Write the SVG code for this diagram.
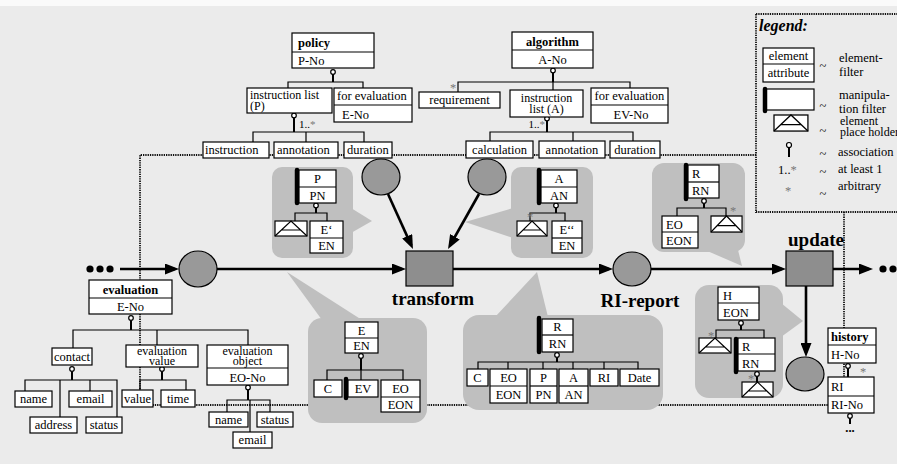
<svg xmlns="http://www.w3.org/2000/svg" width="897" height="464" viewBox="0 0 897 464">
<style>
.b{fill:#fff;stroke:#000;stroke-width:1.2}
.l{fill:none;stroke:#000;stroke-width:1.2}
.st{fill:none;stroke:#000;stroke-width:2}
.d{fill:none;stroke:#111;stroke-width:1.8;stroke-dasharray:1.3 1}
.f{fill:none;stroke:#000;stroke-width:2.6}
.co{fill:#bfbfbf}
.cir{fill:#999;stroke:#000;stroke-width:1.2}
.sq{fill:#8e8e8e;stroke:#000;stroke-width:1.2}
.a{fill:#fff;stroke:#000;stroke-width:1.2}
.bar{stroke:#000;stroke-width:4.5;stroke-linecap:round}
text{font-family:"Liberation Serif","Times New Roman","DejaVu Serif",serif;font-size:12.5px;fill:#000}
.m{text-anchor:middle}
.e{text-anchor:end}
.bd{font-weight:bold}
.big{font-size:19px;font-weight:bold}
.g{fill:#777}
.sm{font-size:11px}
.tl{font-size:12px}
</style>
<defs>
<marker id="ah" markerWidth="14" markerHeight="11" refX="10" refY="5.5" orient="auto" markerUnits="userSpaceOnUse"><path d="M0,0 L14,5.5 L0,11 z" fill="#000"/></marker>
<g id="ph"><rect class="b" x="0" y="0" width="32" height="15"/><path class="l" d="M0,15 L16,0 L32,15 M6.5,9 H25.5"/></g>
</defs>
<rect x="0" y="0" width="897" height="464" fill="#ebebeb"/>
<rect x="0" y="0" width="897" height="6" fill="#fafafa"/>

<g id="dotted-connectors">
<path class="d" d="M844,212 V405 H140 V155 H756"/>
</g>

<g id="legend">
<rect class="d" x="756" y="14" width="150" height="198"/>
<text x="759" y="31" style="font-size:16px;font-weight:bold;font-style:italic">legend:</text>
<rect class="b" x="763" y="48" width="51" height="34"/><line class="l" x1="763" y1="64" x2="814" y2="64"/>
<text class="m" x="788.5" y="60">element</text><text class="m" x="788.5" y="77">attribute</text>
<text class="m" x="823" y="70">~</text><text x="839" y="62">element-</text><text x="839" y="76">filter</text>
<rect class="b" x="764" y="89" width="50" height="21"/><line class="bar" x1="765" y1="89" x2="765" y2="111"/>
<text class="m" x="823" y="110">~</text><text x="839" y="99">manipula-</text><text x="839" y="113">tion filter</text>
<use href="#ph" transform="translate(774,115) scale(1.06,1.07)"/>
<text class="m" x="823" y="135">~</text><text class="tl" x="840" y="125">element</text><text class="tl" x="840" y="136">place holder</text>
<line class="st" x1="789" y1="147.5" x2="789" y2="157"/><circle class="a" cx="789" cy="145" r="2.5"/>
<text class="m" x="823" y="158">~</text><text x="838" y="156">association</text>
<text x="778" y="174">1..<tspan class="g">*</tspan></text>
<text class="m" x="823" y="176">~</text><text x="838" y="173">at least 1</text>
<text class="g" x="785" y="195">*</text>
<text class="m" x="823" y="198">~</text><text x="838" y="190">arbitrary</text>
</g>

<g id="callout-P"><rect class="co" x="272" y="167" width="81" height="91" rx="10"/><polygon class="co" points="351,208 372,221 351,233"/></g>
<g id="callout-A"><rect class="co" x="511" y="167" width="82" height="91" rx="10"/><polygon class="co" points="513,208 465,222 513,238"/></g>
<g id="callout-R-top"><rect class="co" x="652" y="163" width="93" height="89" rx="12"/><polygon class="co" points="705,250 742,266 738,250"/></g>
<g id="callout-E"><rect class="co" x="308" y="318" width="119" height="105" rx="14"/><polygon class="co" points="322,320 287,272 362,320"/></g>
<g id="callout-RI"><rect class="co" x="463" y="315" width="200" height="95" rx="16"/><polygon class="co" points="495,317 537,272 548,317"/></g>
<g id="callout-H"><rect class="co" x="695" y="285" width="88" height="113" rx="14"/><polygon class="co" points="781,303 803,321 781,337"/></g>

<g id="connectors">
<path class="l" d="M288,88 V82 H363 V88"/><line class="st" x1="333" y1="74" x2="333" y2="82"/><circle class="a" cx="333" cy="72" r="2.3"/>
<path class="l" d="M253,142 V132 H364 V142 M306,132 V142"/><line class="st" x1="294" y1="118" x2="294" y2="132"/><circle class="a" cx="294" cy="115.5" r="2.3"/>
<path class="l" d="M458,92 V82 H630 V88 M553,82 V90"/><line class="st" x1="553" y1="73" x2="553" y2="82"/><circle class="a" cx="553" cy="70.5" r="2.3"/>
<path class="l" d="M490,141 V132 H633 V141 M573,132 V141"/><line class="st" x1="547" y1="121" x2="547" y2="132"/><circle class="a" cx="547" cy="118.5" r="2.3"/>
<path class="l" d="M73,348 V330 H248 V345 M157,330 V345"/><line class="st" x1="131" y1="320.5" x2="131" y2="330"/><circle class="a" cx="131" cy="318" r="2.3"/>
<path class="l" d="M25,391 V380 H117 V417 M60,380 V417 M90,380 V391"/><line class="st" x1="72" y1="371.5" x2="72" y2="380"/><circle class="a" cx="72" cy="369" r="2.3"/>
<path class="l" d="M140,390 V380 H186 V390"/><line class="st" x1="162" y1="371.5" x2="162" y2="380"/><circle class="a" cx="162" cy="369" r="2.3"/>
<path class="l" d="M227,412 V400 H270 V412 M250,400 V432"/><line class="st" x1="248" y1="390" x2="248" y2="400"/><circle class="a" cx="248" cy="387.5" r="2.3"/>
<path class="l" d="M295,221 V213 H327 V221"/><line class="st" x1="316" y1="208" x2="316" y2="213"/><circle class="a" cx="316" cy="205.5" r="2.3"/>
<path class="l" d="M530,221 V213 H565 V221"/><line class="st" x1="556" y1="208" x2="556" y2="213"/><circle class="a" cx="556" cy="205.5" r="2.3"/>
<path class="l" d="M677,216 V208 H726 V216"/><line class="st" x1="704" y1="203.5" x2="704" y2="208"/><circle class="a" cx="704" cy="201" r="2.3"/>
<path class="l" d="M327,380 V370 H403 V380 M361,370 V380"/><line class="st" x1="361" y1="358.5" x2="361" y2="370"/><circle class="a" cx="361" cy="356" r="2.3"/>
<path class="l" d="M478,369 V362 H638 V369 M508,362 V369 M543,362 V369 M573,362 V369 M604,362 V369"/><line class="st" x1="557" y1="357.5" x2="557" y2="362"/><circle class="a" cx="557" cy="355" r="2.3"/>
<path class="l" d="M716,338 V330 H764 V338"/><line class="st" x1="741" y1="325.5" x2="741" y2="330"/><circle class="a" cx="741" cy="323" r="2.3"/>
<line class="st" x1="757" y1="376.5" x2="757" y2="382"/><circle class="a" cx="757" cy="374" r="2.3"/>
<line class="st" x1="848" y1="368.5" x2="848" y2="377"/><circle class="a" cx="848" cy="366" r="2.3"/>
<line class="st" x1="850" y1="418.5" x2="850" y2="424"/><circle class="a" cx="850" cy="416" r="2.3"/>
<circle cx="90" cy="269" r="3.6"/><circle cx="100" cy="269" r="3.6"/><circle cx="110" cy="269" r="3.6"/>
<line class="f" x1="120" y1="269" x2="175" y2="269" marker-end="url(#ah)"/>
<line class="f" x1="217" y1="269" x2="402" y2="269" marker-end="url(#ah)"/>
<line class="f" x1="453" y1="269" x2="609" y2="269" marker-end="url(#ah)"/>
<line class="f" x1="651" y1="269" x2="782" y2="269" marker-end="url(#ah)"/>
<line class="f" x1="833" y1="269" x2="869" y2="269" marker-end="url(#ah)"/>
<circle cx="883" cy="269" r="3.6"/><circle cx="893" cy="269" r="3.6"/>
<line class="f" x1="806" y1="286" x2="806" y2="353" marker-end="url(#ah)"/>
<line class="f" x1="388" y1="194" x2="411.3" y2="245.4" marker-end="url(#ah)"/>
<line class="f" x1="479" y1="194" x2="450" y2="245.5" marker-end="url(#ah)"/>
</g>

<g id="policy"><rect class="b" x="292" y="33" width="82" height="35"/><line class="l" x1="292" y1="52" x2="374" y2="52"/><text class="bd" x="298" y="47">policy</text><text x="298" y="65">P-No</text></g>
<g id="instruction-list-P"><rect class="b" x="247" y="88" width="85" height="25"/><text class="tl" x="250" y="98.5">instruction list</text><text class="tl" x="250" y="110">(P)</text><text class="sm" x="299" y="128">1..<tspan class="g">*</tspan></text></g>
<g id="for-evaluation-P"><rect class="b" x="334" y="88" width="78" height="34"/><line class="l" x1="334" y1="105" x2="412" y2="105"/><text x="337" y="100">for evaluation</text><text x="342" y="119">E-No</text></g>
<g id="instruction-P"><rect class="b" x="203" y="142" width="66" height="16"/><text x="205" y="154">instruction</text></g>
<g id="annotation-P"><rect class="b" x="274" y="142" width="64" height="16"/><text x="277" y="154">annotation</text></g>
<g id="duration-P"><rect class="b" x="344" y="142" width="48" height="16"/><text x="347" y="154">duration</text></g>

<g id="algorithm"><rect class="b" x="512" y="32" width="81" height="36"/><line class="l" x1="512" y1="50" x2="593" y2="50"/><text class="m bd" x="552.5" y="46">algorithm</text><text class="m" x="552.5" y="64">A-No</text></g>
<g id="requirement"><text class="g" x="450" y="92">*</text><rect class="b" x="419" y="92" width="81" height="16"/><text class="m" x="459.5" y="104">requirement</text></g>
<g id="instruction-list-A"><rect class="b" x="510" y="90" width="73" height="27"/><text class="m tl" x="546.5" y="101.5">instruction</text><text class="m tl" x="546.5" y="113">list (A)</text><text class="sm e" x="545" y="128">1..<tspan class="g">*</tspan></text></g>
<g id="for-evaluation-A"><rect class="b" x="591" y="88" width="77" height="35"/><line class="l" x1="591" y1="105" x2="668" y2="105"/><text class="m" x="629.5" y="100">for evaluation</text><text class="m" x="631" y="119">EV-No</text></g>
<g id="calculation"><rect class="b" x="466" y="141" width="67" height="17"/><text class="m" x="499.5" y="154">calculation</text></g>
<g id="annotation-A"><rect class="b" x="539" y="141" width="66" height="17"/><text class="m" x="572" y="154">annotation</text></g>
<g id="duration-A"><rect class="b" x="610" y="141" width="50" height="17"/><text class="m" x="635" y="154">duration</text></g>

<g id="evaluation"><rect class="b" x="89" y="280" width="83" height="34"/><line class="l" x1="89" y1="298" x2="172" y2="298"/><text class="m bd" x="130.5" y="294">evaluation</text><text class="m" x="130.5" y="311">E-No</text></g>
<g id="contact"><rect class="b" x="52" y="348" width="40" height="17"/><text class="m" x="72" y="361">contact</text></g>
<g id="evaluation-value"><rect class="b" x="126" y="345" width="72" height="22"/><text class="m tl" x="162" y="354.5">evaluation</text><text class="m tl" x="162" y="365">value</text></g>
<g id="evaluation-object"><rect class="b" x="207" y="345" width="81" height="40"/><line class="l" x1="207" y1="368" x2="288" y2="368"/><text class="m tl" x="247.5" y="354.5">evaluation</text><text class="m tl" x="247.5" y="365">object</text><text class="m" x="247.5" y="382">EO-No</text></g>
<g id="c-name"><rect class="b" x="15" y="391" width="37" height="16"/><text class="m" x="33.5" y="403">name</text></g>
<g id="c-email"><rect class="b" x="69" y="391" width="43" height="16"/><text class="m" x="90.5" y="403">email</text></g>
<g id="c-address"><rect class="b" x="30" y="417" width="47" height="16"/><text class="m" x="53.5" y="429">address</text></g>
<g id="c-status"><rect class="b" x="86" y="417" width="36" height="16"/><text class="m" x="104" y="429">status</text></g>
<g id="value"><rect class="b" x="122" y="390" width="31" height="17"/><text class="m" x="137.5" y="403">value</text></g>
<g id="time"><rect class="b" x="161" y="390" width="34" height="17"/><text class="m" x="178" y="403">time</text></g>
<g id="o-name"><rect class="b" x="209" y="412" width="39" height="15"/><text class="m" x="228.5" y="424">name</text></g>
<g id="o-status"><rect class="b" x="257" y="412" width="36" height="15"/><text class="m" x="275" y="424">status</text></g>
<g id="o-email"><rect class="b" x="233" y="432" width="39" height="16"/><text class="m" x="252.5" y="444">email</text></g>

<g id="filter-P"><line class="bar" x1="297" y1="170" x2="297" y2="203"/><rect class="b" x="299" y="170" width="37" height="33"/><line class="l" x1="299" y1="187" x2="336" y2="187"/><text class="m" x="317.5" y="183">P</text><text class="m" x="317.5" y="200">PN</text>
<use href="#ph" x="275" y="221"/>
<rect class="b" x="310" y="221" width="33" height="32"/><line class="l" x1="310" y1="238" x2="343" y2="238"/><text class="m" x="326.5" y="234">E‘</text><text class="m" x="326.5" y="250">EN</text></g>

<g id="filter-A"><line class="bar" x1="539" y1="170" x2="539" y2="203"/><rect class="b" x="541" y="170" width="36" height="33"/><line class="l" x1="541" y1="187" x2="577" y2="187"/><text class="m" x="559" y="183">A</text><text class="m" x="559" y="200">AN</text>
<text class="g" x="527" y="221">*</text>
<use href="#ph" transform="translate(517,221) scale(0.94,1)"/>
<rect class="b" x="552" y="221" width="30" height="32"/><line class="l" x1="552" y1="238" x2="582" y2="238"/><text class="m" x="567" y="234">E‘‘</text><text class="m" x="567" y="250">EN</text></g>

<g id="filter-R-top"><line class="bar" x1="686" y1="165" x2="686" y2="199"/><rect class="b" x="688" y="165" width="31" height="33"/><line class="l" x1="688" y1="182" x2="719" y2="182"/><text x="692" y="178">R</text><text x="692" y="195">RN</text>
<rect class="b" x="662" y="216" width="36" height="32"/><line class="l" x1="662" y1="232" x2="698" y2="232"/><text x="666" y="229">EO</text><text x="666" y="245">EON</text>
<text class="g" x="730" y="215">*</text>
<use href="#ph" transform="translate(711,216) scale(0.97,1.07)"/></g>

<g id="filter-E"><rect class="b" x="345" y="322" width="33" height="31"/><line class="l" x1="345" y1="338" x2="378" y2="338"/><text class="m" x="361.5" y="335">E</text><text class="m" x="361.5" y="350">EN</text>
<rect class="b" x="314" y="380" width="28" height="17"/><text class="m" x="328" y="393">C</text>
<line class="bar" x1="346" y1="379" x2="346" y2="398"/>
<rect class="b" x="348" y="380" width="30" height="17"/><text class="m" x="363" y="393">EV</text>
<rect class="b" x="381" y="380" width="39" height="32"/><line class="l" x1="381" y1="397" x2="420" y2="397"/><text class="m" x="400.5" y="393">EO</text><text class="m" x="400.5" y="409">EON</text></g>

<g id="filter-RI"><line class="bar" x1="539" y1="318" x2="539" y2="352"/><rect class="b" x="542" y="319" width="31" height="33"/><line class="l" x1="542" y1="335" x2="573" y2="335"/><text class="m" x="557.5" y="331">R</text><text class="m" x="557.5" y="348">RN</text>
<rect class="b" x="467" y="369" width="21" height="17"/><text class="m" x="477.5" y="382">C</text>
<rect class="b" x="490" y="369" width="37" height="34"/><line class="l" x1="490" y1="386" x2="527" y2="386"/><text class="m" x="508.5" y="382">EO</text><text class="m" x="508.5" y="399">EON</text>
<rect class="b" x="530" y="369" width="27" height="34"/><line class="l" x1="530" y1="386" x2="557" y2="386"/><text class="m" x="543.5" y="382">P</text><text class="m" x="543.5" y="399">PN</text>
<rect class="b" x="559" y="369" width="29" height="34"/><line class="l" x1="559" y1="386" x2="588" y2="386"/><text class="m" x="573.5" y="382">A</text><text class="m" x="573.5" y="399">AN</text>
<rect class="b" x="590" y="369" width="28" height="17"/><text class="m" x="604" y="382">RI</text>
<rect class="b" x="620" y="369" width="39" height="17"/><text class="m" x="639.5" y="382">Date</text></g>

<g id="filter-H"><rect class="b" x="718" y="287" width="41" height="33"/><line class="l" x1="718" y1="303" x2="759" y2="303"/><text x="723" y="300">H</text><text x="723" y="317">EON</text>
<text class="g" x="708" y="340">*</text>
<use href="#ph" x="699" y="338"/>
<line class="bar" x1="736" y1="339" x2="736" y2="372"/>
<rect class="b" x="738" y="338" width="37" height="33"/><line class="l" x1="738" y1="354" x2="775" y2="354"/><text x="742" y="351">R</text><text x="742" y="368">RN</text>
<text class="g" x="748" y="383">*</text>
<use href="#ph" transform="translate(742,382) scale(0.97,1)"/></g>

<g id="history"><rect class="b" x="828" y="328" width="48" height="35"/><line class="l" x1="828" y1="345" x2="876" y2="345"/><text class="bd" x="831" y="341">history</text><text x="831" y="359">H-No</text><text class="g" x="860" y="376">*</text></g>
<g id="RI"><rect class="b" x="828" y="377" width="46" height="36"/><line class="l" x1="828" y1="396" x2="874" y2="396"/><text x="831" y="391">RI</text><text x="831" y="409">RI-No</text><text class="m bd" x="850" y="432">...</text></g>

<g id="state-in"><ellipse class="cir" cx="198" cy="269" rx="19" ry="18"/></g>
<g id="state-policy"><ellipse class="cir" cx="381" cy="177" rx="19" ry="18"/></g>
<g id="state-algorithm"><ellipse class="cir" cx="487" cy="177" rx="19" ry="18"/></g>
<g id="transform"><rect class="sq" x="406" y="251" width="47" height="35"/><text class="m big" x="433" y="305">transform</text></g>
<g id="RI-report"><ellipse class="cir" cx="632" cy="269" rx="19" ry="17"/><text class="m big" x="640" y="307">RI-report</text></g>
<g id="update"><rect class="sq" x="786" y="251" width="47" height="35"/><text class="m big" x="816" y="246">update</text></g>
<g id="state-history"><ellipse class="cir" cx="805" cy="374" rx="19" ry="17"/></g>
</svg>
